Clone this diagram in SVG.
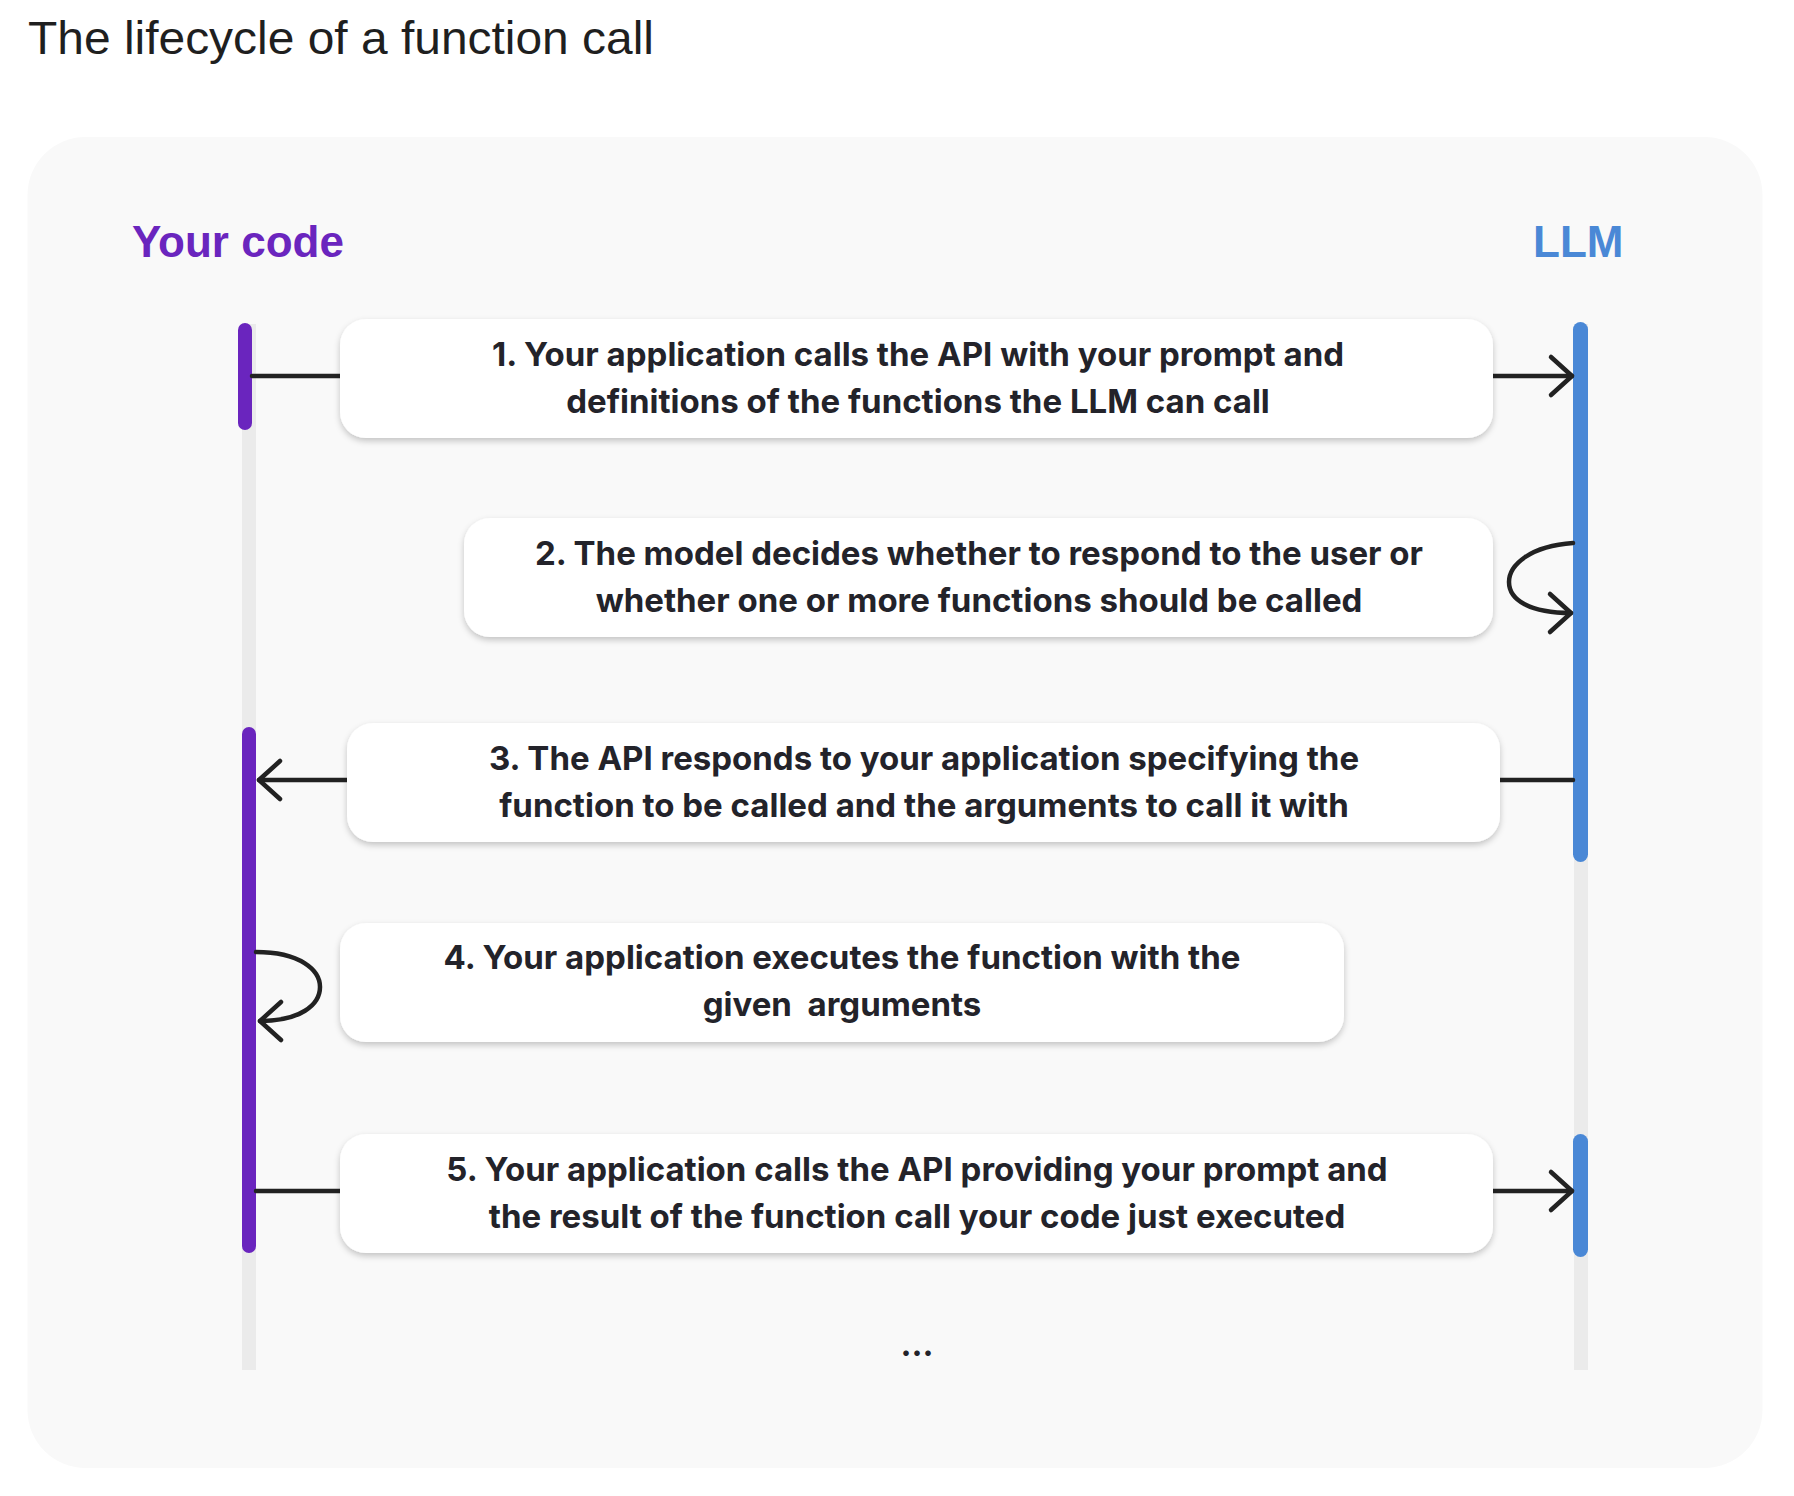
<svg xmlns="http://www.w3.org/2000/svg" width="1794" height="1496" viewBox="0 0 1794 1496">
<style>
.title{font-family:"Liberation Sans",Arial,sans-serif;font-size:46px;fill:#1f1f1f}
.actor{font-family:"Liberation Sans",Arial,sans-serif;font-size:44px;font-weight:bold}
.box{fill:#ffffff}
.txt{font-family:Inter,"Noto Sans",sans-serif;font-size:33px;font-weight:700;fill:#23232a;text-anchor:middle}
.conn{fill:none;stroke:#222;stroke-width:4.5;stroke-linecap:round}
.life{fill:#ebebeb}
.purple{fill:#6a25be}
.blue{fill:#4a88d6}
</style>
<defs>
<filter id="sh" x="-5%" y="-20%" width="110%" height="150%">
<feDropShadow dx="0" dy="3" stdDeviation="3" flood-color="#000" flood-opacity="0.22"/>
</filter>
<marker id="ah" viewBox="-30 -30 40 60" markerWidth="40" markerHeight="60" refX="0" refY="0" orient="auto" markerUnits="userSpaceOnUse" overflow="visible">
<path d="M-21,-19 L0,0 L-21,19" fill="none" stroke="#222" stroke-width="4.5" stroke-linecap="round" stroke-linejoin="round"/>
</marker>
</defs>
<rect width="1794" height="1496" fill="#ffffff"/>
<text class="title" x="28" y="54" textLength="626" lengthAdjust="spacingAndGlyphs">The lifecycle of a function call</text>
<rect x="27.5" y="137" width="1735" height="1331" rx="58" fill="#f9f9f9"/>
<g id="your-code">
<text class="actor" x="132" y="257" fill="#6a25be">Your code</text>
<rect class="life" x="242" y="324" width="14" height="1046"/>
<rect class="purple" x="238" y="323" width="14" height="107" rx="7"/>
<rect class="purple" x="242" y="727" width="14" height="526" rx="7"/>
</g>
<g id="llm">
<text class="actor" x="1533" y="257" fill="#4a88d6">LLM</text>
<rect class="life" x="1574" y="324" width="14" height="1046"/>
<rect class="blue" x="1573" y="322" width="15" height="540" rx="7.5"/>
<rect class="blue" x="1573" y="1134" width="15" height="123" rx="7.5"/>
</g>
<g id="connectors">
<line class="conn" x1="252" y1="376" x2="340" y2="376"/>
<line class="conn" x1="1493" y1="376" x2="1572" y2="376" marker-end="url(#ah)"/>
<path class="conn" d="M1573,543 C1530,546 1509,565 1509,582 C1509,600 1530,613 1571,613" marker-end="url(#ah)"/>
<line class="conn" x1="1573" y1="780" x2="1500" y2="780"/>
<line class="conn" x1="347" y1="780" x2="259" y2="780" marker-end="url(#ah)"/>
<path class="conn" d="M256,952 C300,952 320,970 320,987 C320,1005 300,1021 260,1021" marker-end="url(#ah)"/>
<line class="conn" x1="256" y1="1191" x2="340" y2="1191"/>
<line class="conn" x1="1493" y1="1191" x2="1572" y2="1191" marker-end="url(#ah)"/>
</g>
<g id="step1">
<rect class="box" x="340" y="319" width="1153" height="119" rx="26" filter="url(#sh)"/>
<text class="txt" x="918" y="366">1. Your application calls the API with your prompt and</text>
<text class="txt" x="918" y="413">definitions of the functions the LLM can call</text>
</g>
<g id="step2">
<rect class="box" x="464" y="518" width="1029" height="119" rx="26" filter="url(#sh)"/>
<text class="txt" x="979" y="565">2. The model decides whether to respond to the user or</text>
<text class="txt" x="979" y="612">whether one or more functions should be called</text>
</g>
<g id="step3">
<rect class="box" x="347" y="723" width="1153" height="119" rx="26" filter="url(#sh)"/>
<text class="txt" x="924" y="770">3. The API responds to your application specifying the</text>
<text class="txt" x="924" y="817">function to be called and the arguments to call it with</text>
</g>
<g id="step4">
<rect class="box" x="340" y="923" width="1004" height="119" rx="26" filter="url(#sh)"/>
<text class="txt" x="842" y="969">4. Your application executes the function with the</text>
<text class="txt" x="842" y="1016" xml:space="preserve">given  arguments</text>
</g>
<g id="step5">
<rect class="box" x="340" y="1134" width="1153" height="119" rx="26" filter="url(#sh)"/>
<text class="txt" x="917" y="1181">5. Your application calls the API providing your prompt and</text>
<text class="txt" x="917" y="1228">the result of the function call your code just executed</text>
</g>
<g id="more">
<text class="txt" x="917" y="1356">...</text>
</g>
</svg>
